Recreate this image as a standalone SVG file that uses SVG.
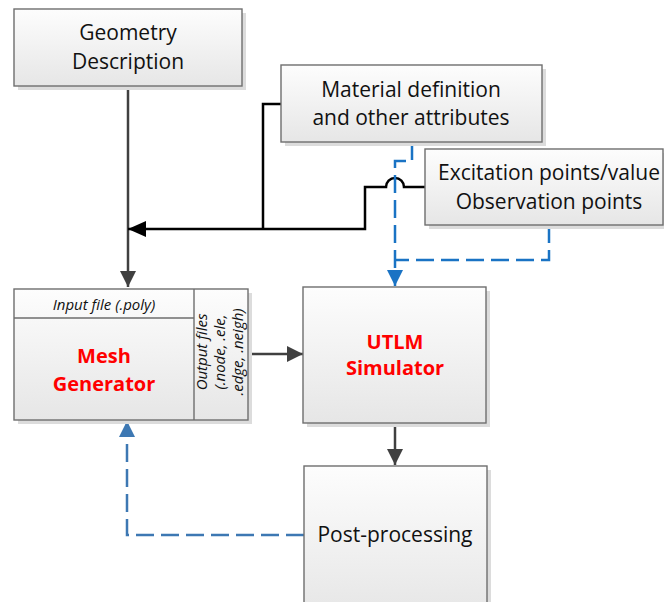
<svg xmlns="http://www.w3.org/2000/svg" width="664" height="602" viewBox="0 0 664 602">
<style>
.box{fill:url(#g);stroke:#6e6e6e;stroke-width:1.4}
.sh{fill:#dcdcdc}
.t{font-family:"Open Sans","Liberation Sans",sans-serif;font-size:21px;fill:#111;text-anchor:middle}
.r{font-family:"Open Sans","Liberation Sans",sans-serif;font-size:20px;font-weight:bold;fill:#ff0000;text-anchor:middle}
.i{font-family:"Open Sans","Liberation Sans",sans-serif;font-size:15px;font-style:italic;fill:#111;text-anchor:middle}
.gray{fill:none;stroke:#404040;stroke-width:2.5}
.blk{fill:none;stroke:#000;stroke-width:2.5}
.b1{fill:none;stroke:#1a73c4;stroke-width:2.5;stroke-dasharray:18 7}
.b2{fill:none;stroke:#3d78b3;stroke-width:2.5;stroke-dasharray:18 7}
</style>
<defs>
<linearGradient id="g" x1="0" y1="0" x2="0" y2="1">
<stop offset="0" stop-color="#fdfdfd"/>
<stop offset="1" stop-color="#e6e6e6"/>
</linearGradient>
<marker id="ag" markerUnits="userSpaceOnUse" markerWidth="18" markerHeight="18" refX="16" refY="8" orient="auto">
<path d="M0,0 L16,8 L0,16 Z" fill="#404040"/>
</marker>
<marker id="ak" markerUnits="userSpaceOnUse" markerWidth="20" markerHeight="18" refX="18" refY="8" orient="auto">
<path d="M0,0 L18,8 L0,16 Z" fill="#000"/>
</marker>
<marker id="a1" markerUnits="userSpaceOnUse" markerWidth="18" markerHeight="18" refX="16" refY="8" orient="auto">
<path d="M0,0 L16,8 L0,16 Z" fill="#1a73c4"/>
</marker>
<marker id="a2" markerUnits="userSpaceOnUse" markerWidth="18" markerHeight="18" refX="16" refY="8" orient="auto">
<path d="M0,0 L16,8 L0,16 Z" fill="#3d78b3"/>
</marker>
</defs>
<rect width="664" height="602" fill="#fff"/>

<g id="connectors">
<path class="gray" d="M128,86 V287" marker-end="url(#ag)"/>
<path class="blk" d="M425,187 H404 A9,9 0 0 0 386,187 H365 V229 H128" marker-end="url(#ak)"/>
<path class="blk" d="M282,104 H263 V229"/>
<path class="b1" d="M412,142 V161 H395 V286" marker-end="url(#a1)"/>
<path class="b1" d="M549,225 V260 H395"/>
<path class="gray" d="M249,354 H303" marker-end="url(#ag)"/>
<path class="gray" d="M395,423 V465" marker-end="url(#ag)"/>
<path class="b2" d="M304,535 H127 V421" marker-end="url(#a2)"/>
</g>

<g id="geometry">
<rect class="sh" x="18" y="13" width="228" height="77"/>
<rect class="box" x="14" y="9" width="228" height="77"/>
<text class="t" x="128" y="40">Geometry</text>
<text class="t" x="128" y="69">Description</text>
</g>

<g id="material">
<rect class="sh" x="285" y="69" width="261" height="77"/>
<rect class="box" x="281" y="65" width="261" height="77"/>
<text class="t" x="411" y="97">Material definition</text>
<text class="t" x="411" y="125">and other attributes</text>
</g>

<g id="excitation">
<rect class="sh" x="429" y="153" width="240" height="76"/>
<rect class="box" x="425" y="149" width="238" height="76"/>
<text class="t" x="549" y="180">Excitation points/value</text>
<text class="t" x="549" y="209">Observation points</text>
</g>

<g id="mesh">
<rect class="sh" x="18" y="293" width="234" height="131"/>
<rect class="box" x="14" y="289" width="234" height="131"/>
<line x1="14" y1="318" x2="194" y2="318" stroke="#6e6e6e" stroke-width="1.4"/>
<line x1="194" y1="289" x2="194" y2="420" stroke="#6e6e6e" stroke-width="1.4"/>
<text class="i" x="104" y="310">Input file (.poly)</text>
<text class="r" x="104" y="363">Mesh</text>
<text class="r" x="104" y="391">Generator</text>
<g transform="translate(221,352) rotate(-90)">
<text class="i" x="0" y="-14">Output files</text>
<text class="i" x="0" y="4">(.node, .ele,</text>
<text class="i" x="0" y="22">.edge, .neigh)</text>
</g>
</g>

<g id="utlm">
<rect class="sh" x="307" y="291" width="183" height="136"/>
<rect class="box" x="303" y="287" width="183" height="136"/>
<text class="r" x="395" y="349">UTLM</text>
<text class="r" x="395" y="375">Simulator</text>
</g>

<g id="post">
<rect class="sh" x="308" y="470" width="183" height="150"/>
<rect class="box" x="304" y="466" width="183" height="150"/>
<text class="t" x="395" y="542">Post-processing</text>
</g>
</svg>
